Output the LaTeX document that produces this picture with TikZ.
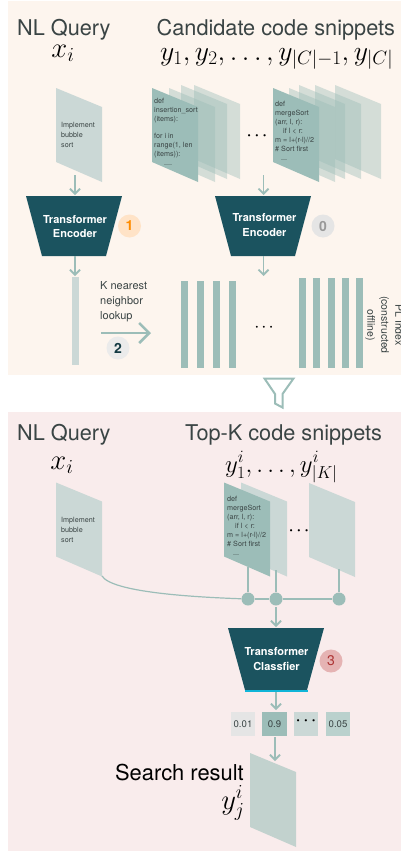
\documentclass[tikz,border=0pt]{standalone}
\usepackage{fontspec}
\setmainfont{TeX Gyre Heros}
\usetikzlibrary{arrows.meta}
\definecolor{toppanel}{HTML}{FDF5EE}
\definecolor{botpanel}{HTML}{F9ECEC}
\definecolor{dark}{HTML}{1B535F}
\definecolor{pale}{HTML}{CBD8D6}
\definecolor{sage}{HTML}{9CBDB8}
\definecolor{txt}{HTML}{3A4444}
\definecolor{result}{HTML}{C2D2CE}
\definecolor{strip}{HTML}{10B5D8}
\tikzset{
  x=1pt,y=-1pt,
  title/.style={font=\fontsize{21.7}{24}\selectfont,text=txt,inner sep=0pt,anchor=base west},
  mathlbl/.style={font=\fontsize{24}{26}\selectfont,text=black,inner sep=0pt},
  paper/.style={fill=pale,draw=none},
  paperfront/.style={fill=sage,draw=none},
  stackpaper/.style={fill=sage,fill opacity=.42,draw=none},
  code/.style={font=\fontsize{7.2}{9}\selectfont,text=txt,inner sep=0pt,anchor=north west,align=left},
  flow/.style={draw=sage,line width=1.8pt,-{Straight Barb[length=5pt,width=10pt,line width=1.8pt]}},
  wire/.style={draw=sage,line width=1.2pt},
  enc/.style={fill=dark,draw=none},
  enclbl/.style={font=\bfseries\fontsize{11}{14.6}\selectfont,text=white,align=center,inner sep=0pt},
  badge/.style={circle,minimum size=23pt,inner sep=0pt,font=\bfseries\fontsize{14}{14}\selectfont},
  bar/.style={fill=sage,draw=none},
  plain/.style={font=\fontsize{11}{14.7}\selectfont,text=txt,inner sep=0pt,align=left},
  dotsl/.style={font=\bfseries\fontsize{15}{15}\selectfont,text=black,inner sep=0pt},
  joint/.style={circle,fill=sage,minimum size=13pt,inner sep=0pt},
  score/.style={minimum width=24.5pt,minimum height=24pt,inner sep=0pt,font=\fontsize{9.6}{10}\selectfont,text=txt},
}
\newcommand{\sheet}[3]{\fill[#1] (#2,#3) -- ++(46,19) -- ++(0,75) -- ++(-46,-20) -- cycle;}
\newcommand{\threedots}{·\hspace{3.5pt}·\hspace{3.5pt}·}
\begin{document}
\begin{tikzpicture}
\useasboundingbox (0,0) rectangle (401,851);
\fill[white] (0,0) rectangle (401,851);
\fill[toppanel] (8,1) rectangle (401,375);
\fill[botpanel] (8,412) rectangle (401,851);
% titles
\node[title] (t1) at (17,36) {NL Query};
\node[title] (t2) at (156.5,35.5) {Candidate code snippets};
\node[mathlbl,scale=1.15] (m1) at (63,53) {$x_i$};
\node[mathlbl,scale=1.115,anchor=base west] (m2) at (160,60) {$y_1,y_2,\dots,y_{|C|-1},y_{|C|}$};
% query paper
\sheet{paper}{56}{88}
\node[code,font=\fontsize{7.2}{10}\selectfont] (q1) at (61,122) {Implement\\bubble\\sort};
% stacks
\sheet{stackpaper}{194}{85}
\sheet{stackpaper}{181}{85}
\sheet{stackpaper}{169}{88}
\sheet{paperfront}{152}{88}
\node[code] (c1) at (154,98) {def\\insertion\_sort\\(items):\\[8.5pt]for i in\\range(1, len\\(items)):\\\hspace{10pt}....};
\sheet{stackpaper}{335}{85}
\sheet{stackpaper}{315}{85}
\sheet{stackpaper}{299}{85}
\sheet{stackpaper}{289}{88}
\sheet{paperfront}{273}{88}
\node[code] (c2) at (275,101) {def\\mergeSort\\(arr, l, r):\\\hspace{8pt}if l < r:\\m = l+(r-l)//2\\\# Sort first\\\hspace{6pt}...};
\node[dotsl] (d1) at (257,137) {\threedots};
% encoders
\fill[enc] (26,196) -- (122,196) -- (106,256) -- (42,256) -- cycle;
\node[enclbl] (e1) at (75,226.5) {Transformer\\Encoder};
\fill[enc] (215,196) -- (311,196) -- (295,256) -- (231,256) -- cycle;
\node[enclbl] (e2) at (264.5,225) {Transformer\\Encoder};
\node[badge,fill=orange!22!white,text=orange!90!yellow] (b1) at (129.5,226) {1};
\node[badge,fill=black!10,text=black!40] (b0) at (323,226) {0};
\coordinate (a1) at (75,175); \coordinate (a1e) at (75,195);
\coordinate (a2) at (263.5,175); \coordinate (a2e) at (263.5,195);
\coordinate (a3) at (75,256); \coordinate (a3e) at (75,276);
\coordinate (a4) at (263.5,256); \coordinate (a4e) at (263.5,276);
\draw[flow] (a1) -- (a1e);
\draw[flow] (a2) -- (a2e);
\draw[flow] (a3) -- (a3e);
\draw[flow] (a4) -- (a4e);
% vectors
\fill[pale] (72,277) rectangle (79,365);
\foreach \x in {181,197,213,229} \fill[bar] (\x,281) rectangle +(7,87);
\foreach \x in {299,313,328,342,356} \fill[bar] (\x,278) rectangle +(6.5,90);
\node[dotsl,font=\bfseries\fontsize{13}{13}\selectfont] (d2) at (264,328) {\threedots};
\node[plain,anchor=north west] (k) at (100,281.5) {K nearest\\neighbor\\lookup};
\coordinate (n1) at (101,333); \coordinate (n2) at (151,333);
\draw[draw=sage,line width=2.5pt,-{Straight Barb[length=10pt,width=20pt,line width=2.5pt]}] (n1) -- (n2);
\node[badge,fill=black!8,text=dark!70!black] (b2) at (118,348) {2};
\node[rotate=-90,font=\fontsize{10.5}{14}\selectfont,text=txt,align=center,inner sep=0pt] (pl) at (384,325) {PL Index\\(constructed\\offline)};
% funnel
\draw[draw=sage,line width=2pt,line join=miter] (264.5,378.5) -- (293.5,378.5) -- (282.5,394) -- (282.5,407.5) -- (275,403.5) -- (275,394) -- cycle;
% bottom
\node[title] (t3) at (17,440) {NL Query};
\node[title] (t4) at (185,440) {Top-K code snippets};
\node[mathlbl,scale=1.15] (m3) at (62,465) {$x_i$};
\node[mathlbl,anchor=base west] (m4) at (225,472) {$y_1^i,\dots,y_{|K|}^i$};
\sheet{paper}{56}{482.5}
\node[code,font=\fontsize{7.2}{10}\selectfont] (q2) at (61,517) {Implement\\bubble\\sort};
\sheet{paper}{241}{482.5}
\sheet{paperfront}{224}{482.5}
\node[code] (c3) at (227,496) {def\\mergeSort\\(arr, l, r):\\\hspace{8pt}if l < r:\\m = l+(r-l)//2\\\# Sort first\\\hspace{6pt}...};
\sheet{paper}{309}{483}
\node[dotsl] (d3) at (299,532) {\threedots};
% joints
\node[joint] (j1) at (248,599) {};
\node[joint] (j2) at (276,599) {};
\node[joint] (j3) at (339,599) {};
\coordinate (s1) at (248,567); \coordinate (s2) at (276,570); \coordinate (s3) at (339,569);
\coordinate (qb) at (102,576);
\draw[wire] (s1) -- (j1);
\draw[wire] (s2) -- (j2);
\draw[wire] (s3) -- (j3);
\draw[wire] (qb) .. controls (112,592) and (190,597) .. (j1);
\draw[wire] (j1) -- (j2) -- (j3);
% classifier
\fill[dark] (228,628) -- (324,628) -- (307,690) -- (245,690) -- cycle;
\fill[strip] (244.5,689.5) rectangle (307.5,692);
\node[enclbl] (e3) at (276.5,659) {Transformer\\Classfier};
\node[badge,fill=red!22!white!90!black,text=red!60!black!80!white,font=\fontsize{14}{14}\selectfont] (b3) at (331,661) {3};
\coordinate (c1s) at (276,692); \coordinate (c1e) at (276,710);
\coordinate (j2b) at (276,607); \coordinate (j2e) at (276,627);
\draw[flow] (j2b) -- (j2e);
\draw[flow] (c1s) -- (c1e);
\node[score,fill=black!10] (s01) at (243,724) {0.01};
\node[score,fill=sage] (s02) at (274.5,724) {0.9};
\node[score,fill=pale] (s03) at (306,724) {};
\node[dotsl] (d4) at (306,722.5) {\threedots};
\node[score,fill=sage!70!white] (s04) at (338,724) {0.05};
\coordinate (r1) at (275,737); \coordinate (r2) at (275,761);
\sheet{result}{250}{753}
\draw[flow] (r1) -- (r2);
\node[font=\fontsize{21.9}{22}\selectfont,text=black,inner sep=0pt,anchor=base east] (sr) at (244,780) {Search result};
\node[mathlbl,scale=1.15,anchor=center] (yj) at (233,803) {$y_j^i$};
\end{tikzpicture}
\end{document}
